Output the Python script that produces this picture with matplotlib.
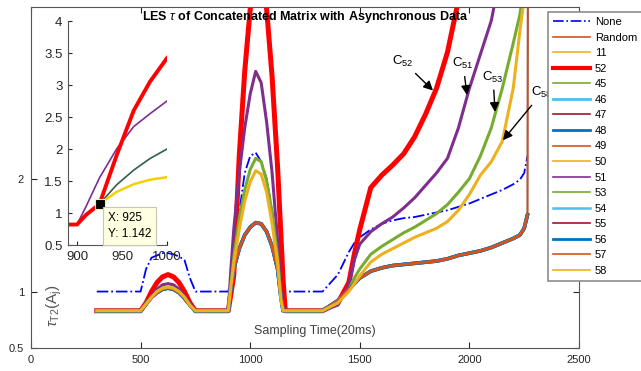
import matplotlib
matplotlib.use('Agg')
import matplotlib.pyplot as plt

plt.rcParams['font.family'] = ['Liberation Sans', 'DejaVu Sans']
plt.rcParams['mathtext.fontset'] = 'custom'
plt.rcParams['mathtext.rm'] = 'Liberation Sans'
plt.rcParams['mathtext.it'] = 'Liberation Sans:italic'
plt.rcParams['mathtext.bf'] = 'Liberation Sans:bold'

t = [300, 400, 500, 525, 550, 575, 600, 625, 650, 675, 700, 725, 750, 800, 900,
     912, 925, 950, 975, 1000, 1025, 1050, 1075, 1100, 1125, 1140, 1150, 1160,
     1250, 1330, 1400, 1450, 1475, 1500, 1550, 1600, 1650, 1700, 1750, 1800,
     1850, 1900, 1950, 2000, 2050, 2100, 2150, 2200, 2230, 2250, 2265]

none_vals = [1.0, 1.0, 1.0, 1.2, 1.3, 1.32, 1.34, 1.34, 1.33, 1.31, 1.28, 1.12, 1.0, 1.0, 1.0,
             1.1, 1.25, 1.7, 2.05, 2.2, 2.23, 2.15, 2.0, 1.72, 1.33, 1.08, 1.0, 1.0,
             1.0, 1.0, 1.15, 1.35, 1.43, 1.48, 1.55, 1.6, 1.63, 1.65, 1.66, 1.68,
             1.7, 1.72, 1.75, 1.78, 1.82, 1.86, 1.9, 1.95, 1.99, 2.05, 2.2]

# curves that stay in the lower bundle (11, 45-50, 54-57, Random)
rest_vals = [0.83, 0.83, 0.83, 0.89, 0.95, 0.99, 1.02, 1.03, 1.02, 0.99, 0.94, 0.88, 0.83, 0.83, 0.83,
             1.05, 1.2, 1.38, 1.5, 1.57, 1.61, 1.6, 1.53, 1.4, 1.2, 0.95, 0.83, 0.83,
             0.83, 0.83, 0.92, 1.02, 1.07, 1.12, 1.18, 1.21, 1.23, 1.24, 1.25, 1.26,
             1.27, 1.29, 1.32, 1.34, 1.36, 1.39, 1.43, 1.47, 1.5, 1.56, 1.68]

vals_52 = [0.83, 0.83, 0.83, 0.9, 1.0, 1.08, 1.13, 1.15, 1.13, 1.08, 1.0, 0.9, 0.83, 0.83, 0.83,
           0.98, 1.14, 2.2, 2.95, 3.5, 3.9, 3.9, 3.5, 2.9, 2.1, 1.5, 1.1, 0.83,
           0.83, 0.83, 0.9, 1.08, 1.33, 1.55, 1.92, 2.03, 2.12, 2.22, 2.37, 2.57,
           2.8, 3.12, 3.58, 4.1, 4.7, 5.2, 5.7, 6.2, 6.5, 6.7, 7.0]

vals_51 = [0.83, 0.83, 0.83, 0.89, 0.96, 1.02, 1.06, 1.07, 1.06, 1.02, 0.96, 0.89, 0.83, 0.83, 0.83,
           1.2, 1.55, 2.05, 2.45, 2.75, 2.95, 2.85, 2.5, 2.05, 1.45, 1.0, 0.83, 0.83,
           0.83, 0.83, 0.88, 1.05, 1.28, 1.42, 1.53, 1.6, 1.66, 1.74, 1.83, 1.94,
           2.05, 2.18, 2.45, 2.8, 3.1, 3.4, 3.9, 4.4, 4.7, 4.9, 5.0]

vals_53 = [0.83, 0.83, 0.83, 0.89, 0.95, 1.0, 1.03, 1.04, 1.03, 1.0, 0.95, 0.88, 0.83, 0.83, 0.83,
           1.05, 1.3, 1.65, 1.9, 2.08, 2.18, 2.15, 1.98, 1.7, 1.3, 0.95, 0.83, 0.83,
           0.83, 0.83, 0.9, 1.02, 1.12, 1.2, 1.33, 1.4, 1.46, 1.52, 1.57, 1.63,
           1.69, 1.77, 1.88, 2.0, 2.2, 2.45, 2.8, 3.2, 3.45, 3.7, 4.2]

vals_58 = [0.83, 0.83, 0.83, 0.89, 0.95, 1.0, 1.03, 1.04, 1.03, 1.0, 0.95, 0.88, 0.83, 0.83, 0.83,
           1.05, 1.25, 1.55, 1.8, 1.97, 2.07, 2.04, 1.88, 1.6, 1.25, 0.93, 0.83, 0.83,
           0.83, 0.83, 0.9, 1.0, 1.07, 1.14, 1.26, 1.33, 1.38, 1.43, 1.48, 1.52,
           1.56, 1.62, 1.72, 1.86, 2.03, 2.15, 2.33, 2.8, 3.3, 3.6, 4.2]

# the Random curve shoots straight up at the very end
jump_t = 2268
jump_val = 5.0

labels = ['None', 'Random', '11', '52', '45', '46', '47', '48', '49', '50',
          '51', '53', '54', '55', '56', '57', '58']
colors = {'None': '#0000FF', 'Random': '#B0583A', '11': '#EDB120', '52': '#FF0000',
          '45': '#77AC30', '46': '#4DBEEE', '47': '#A2142F', '48': '#0072BD',
          '49': '#D95319', '50': '#EDB120', '51': '#7E2F8E', '53': '#77AC30',
          '54': '#4DBEEE', '55': '#A2142F', '56': '#0072BD', '57': '#D95319',
          '58': '#EDB120'}
widths = {'None': 1.3, '52': 3.6, '46': 2.6, '48': 2.6, '54': 2.4, '56': 2.6,
          '51': 2.2, '53': 2.2, '58': 2.2}
legend_widths = {'52': 3.0, '46': 2.0, '48': 2.0, '54': 1.8, '56': 2.0}
special = {'None': none_vals, '52': vals_52, '51': vals_51, '53': vals_53, '58': vals_58}

# zoomed view of the second bump
inset_t = [890, 900, 910, 925, 944, 963, 981, 1000]
inset_52 = [0.82, 0.82, 0.97, 1.14, 1.9, 2.6, 3.05, 3.42]
inset_51 = [0.82, 0.82, 1.1, 1.55, 2.0, 2.35, 2.55, 2.75]
inset_green = [0.82, 0.82, 0.97, 1.14, 1.44, 1.67, 1.85, 2.0]
inset_yellow = [0.82, 0.82, 0.97, 1.14, 1.33, 1.45, 1.52, 1.56]
tip_x, tip_y = 925, 1.142

fig = plt.figure(figsize=(6.41, 3.71), dpi=100)
ax = fig.add_axes([31/641, 23/371, 548/641, 341/371])

for lab in labels:
    lw = widths.get(lab, 2.0)
    ls = '-.' if lab == 'None' else '-'
    if lab == 'Random':
        ax.plot(t + [jump_t], rest_vals + [jump_val], color=colors[lab], lw=1.6, label=lab)
    else:
        ax.plot(t, special.get(lab, rest_vals), color=colors[lab], lw=lw, ls=ls, label=lab)

ax.set_xlim(0, 2500)
ax.set_ylim(0.5, 3.52)
ax.set_xticks([0, 500, 1000, 1500, 2000, 2500])
ax.set_yticks([0.5, 1, 2])
ax.set_yticklabels(['0.5', '1', '2'])
ax.tick_params(direction='in', top=True, right=True, labelsize=8, colors='#262626', pad=5, length=4)
for s in ax.spines.values():
    s.set_color('#555555')

ax.text(0.5, 0.995, r'LES $\tau$ of Concatenated Matrix with Asynchronous Data', transform=ax.transAxes,
        ha='center', va='top', fontsize=9, fontweight='bold')
ax.text(0.518, 0.05, 'Sampling Time(20ms)', transform=ax.transAxes, ha='center', va='center',
        fontsize=9, color='#404040')
ax.text(0.042, 0.125, r'$\tau_{\mathregular{T2}}\mathregular{(A_j)}$', transform=ax.transAxes,
        ha='center', va='center', fontsize=11, rotation=90, color='#555555')

notes = [('52', (1834, 2.78), (1697, 3.04)),
         ('51', (1989, 2.74), (1971, 3.02)),
         ('53', (2117, 2.59), (2108, 2.90)),
         ('58', (2153, 2.34), (2331, 2.76))]
for num, xy, xytext in notes:
    ax.annotate(r'$\mathregular{C_{%s}}$' % num, xy=xy, xytext=xytext, ha='center', va='center',
                fontsize=9.5, arrowprops=dict(arrowstyle='-|>', color='k', lw=1, mutation_scale=14,
                                              shrinkA=2, shrinkB=0))

# inset
ax_in = fig.add_axes([68/641, 126/371, 99/641, 224/371])
ax_in.patch.set_alpha(0)
ax_in.plot(inset_t, inset_51, color='#7E2F8E', lw=1.2)
ax_in.plot(inset_t, inset_green, color='#2F5F4A', lw=1.2)
ax_in.plot(inset_t, inset_yellow, color='#F5D000', lw=1.8)
ax_in.plot(inset_t, inset_52, color='#FF0000', lw=2.8)
ax_in.plot([tip_x], [tip_y], 's', ms=6.5, mfc='k', mec='#F5F0A0', mew=0.8)
ax_in.annotate('X: %d\nY: %.3f' % (tip_x, tip_y), xy=(tip_x, tip_y), xytext=(934, 1.02),
               ha='left', va='top', fontsize=8.5, linespacing=1.5,
               bbox=dict(boxstyle='square,pad=0.4', fc='#FFFFE1', ec='#C8C8B0', lw=0.8))
ax_in.set_xlim(890, 1000)
ax_in.set_ylim(0.5, 4)
ax_in.set_xticks([900, 950, 1000])
ax_in.set_yticks([0.5, 1, 1.5, 2, 2.5, 3, 3.5, 4])
ax_in.set_yticklabels(['0.5', '1', '1.5', '2', '2.5', '3', '3.5', '4'])
ax_in.spines['top'].set_visible(False)
ax_in.spines['right'].set_visible(False)
for s in ['left', 'bottom']:
    ax_in.spines[s].set_color('#555555')
ax_in.tick_params(direction='in', labelsize=9.5, colors='#262626', pad=4, length=3)

h, l = ax.get_legend_handles_labels()
leg = fig.legend(h, l, loc='upper left', bbox_to_anchor=(548/641, 359/371), borderaxespad=0,
                 fontsize=8, handlelength=3.3, handletextpad=0.45, labelspacing=0.5,
                 borderpad=0.45, fancybox=False, framealpha=1, edgecolor='#8C8C8C')
leg.get_frame().set_linewidth(1.2)
for lh, lab in zip(leg.legend_handles, l):
    lh.set_linewidth(legend_widths.get(lab, 1.2))
leg.legend_handles[1].set_color('#D95319')

fig.savefig('out.png', dpi=100)
